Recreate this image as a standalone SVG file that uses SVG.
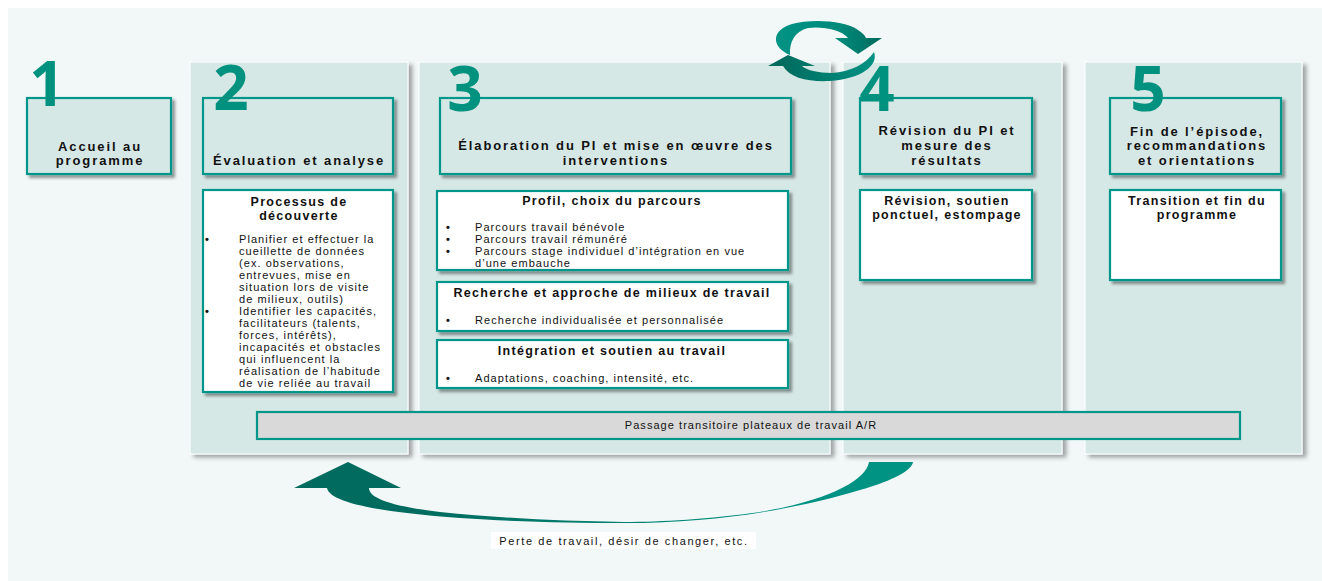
<svg xmlns="http://www.w3.org/2000/svg" width="1322" height="581" viewBox="0 0 1322 581">
<defs>
<style>
.panel{fill:#d6e8e6;stroke:#ffffff;stroke-width:1}
.hbox{fill:#d6e8e6;stroke:#00968a;stroke-width:2.2}
.wbox{fill:#ffffff;stroke:#00968a;stroke-width:2.2}
.num{font-family:"Open Sans","DejaVu Sans",sans-serif;font-weight:700;font-size:62px;fill:#00917f;text-anchor:middle}
.hd{font-family:"Liberation Sans",Arial,sans-serif;font-weight:700;font-size:13px;letter-spacing:1.9px;fill:#111;text-anchor:middle}
.st{font-family:"Liberation Sans",Arial,sans-serif;font-weight:700;font-size:12.5px;letter-spacing:1.3px;fill:#111;text-anchor:middle}
.bd{font-family:"Liberation Sans",Arial,sans-serif;font-size:11px;letter-spacing:1.05px;fill:#111}
.bl{font-family:"Liberation Sans",Arial,sans-serif;font-size:11px;font-weight:700;fill:#111}
.ctr{text-anchor:middle}
</style>
<filter id="sh" x="-10%" y="-10%" width="130%" height="130%">
<feDropShadow dx="3" dy="3" stdDeviation="1.5" flood-color="#000" flood-opacity="0.4"/>
</filter>
<filter id="psh" x="-10%" y="-10%" width="130%" height="130%">
<feDropShadow dx="4" dy="3" stdDeviation="2" flood-color="#000" flood-opacity="0.35"/>
</filter>
<linearGradient id="gBottom" gradientUnits="userSpaceOnUse" x1="420" y1="0" x2="800" y2="0">
<stop offset="0" stop-color="#006b5e"/>
<stop offset="1" stop-color="#009283"/>
</linearGradient>
<linearGradient id="gTop" gradientUnits="userSpaceOnUse" x1="780" y1="0" x2="880" y2="0">
<stop offset="0" stop-color="#009283"/>
<stop offset="0.6" stop-color="#008a7a"/>
<stop offset="1" stop-color="#006b5e"/>
</linearGradient>
<linearGradient id="gLow" gradientUnits="userSpaceOnUse" x1="780" y1="0" x2="875" y2="0">
<stop offset="0" stop-color="#006b5e"/>
<stop offset="1" stop-color="#009283"/>
</linearGradient>
</defs>

<rect x="0" y="0" width="1322" height="581" fill="#ffffff"/>
<rect x="8" y="8" width="1314" height="573" fill="#f2f8f8"/>

<!-- Column panels -->
<g id="panel2"><rect class="panel" x="190" y="62" width="218" height="392" filter="url(#psh)"/></g>
<g id="panel3"><rect class="panel" x="419" y="62" width="411" height="392" filter="url(#psh)"/></g>
<g id="panel4"><rect class="panel" x="843" y="62" width="219" height="392" filter="url(#psh)"/></g>
<g id="panel5"><rect class="panel" x="1085" y="62" width="217" height="392" filter="url(#psh)"/></g>

<!-- Step 1 -->
<g id="step1">
<rect class="hbox" x="27" y="98" width="144" height="76" filter="url(#sh)"/>
<text class="num" x="47" y="106">1</text>
<text class="hd" x="100" y="151">Accueil au</text>
<text class="hd" x="100" y="165">programme</text>
</g>

<!-- Step 2 -->
<g id="step2">
<rect class="hbox" x="203" y="98" width="190" height="76" filter="url(#sh)"/>
<text class="num" x="231" y="110">2</text>
<text class="hd" x="299" y="165">Évaluation et analyse</text>
</g>
<g id="box2">
<rect class="wbox" x="203" y="190" width="190" height="202" filter="url(#sh)"/>
<text class="st" x="299" y="206">Processus de</text>
<text class="st" x="299" y="220">découverte</text>
<text class="bl" x="205" y="243">•</text>
<text class="bl" x="205" y="315">•</text>
<text class="bd" x="239" y="243">Planifier et effectuer la</text>
<text class="bd" x="239" y="255">cueillette de données</text>
<text class="bd" x="239" y="267">(ex. observations,</text>
<text class="bd" x="239" y="279">entrevues, mise en</text>
<text class="bd" x="239" y="291">situation lors de visite</text>
<text class="bd" x="239" y="303">de milieux, outils)</text>
<text class="bd" x="239" y="315">Identifier les capacités,</text>
<text class="bd" x="239" y="327">facilitateurs (talents,</text>
<text class="bd" x="239" y="339">forces, intérêts),</text>
<text class="bd" x="239" y="351">incapacités et obstacles</text>
<text class="bd" x="239" y="363">qui influencent la</text>
<text class="bd" x="239" y="375">réalisation de l’habitude</text>
<text class="bd" x="239" y="387">de vie reliée au travail</text>
</g>

<!-- Step 3 -->
<g id="step3">
<rect class="hbox" x="440" y="98" width="351" height="76" filter="url(#sh)"/>
<text class="num" x="465" y="111">3</text>
<text class="hd" x="616" y="150">Élaboration du PI et mise en œuvre des</text>
<text class="hd" x="616" y="165">interventions</text>
</g>
<g id="box3a">
<rect class="wbox" x="437" y="191" width="351" height="79" filter="url(#sh)"/>
<text class="st" x="612" y="205">Profil, choix du parcours</text>
<text class="bl" x="446" y="231">•</text>
<text class="bl" x="446" y="243">•</text>
<text class="bl" x="446" y="255">•</text>
<text class="bd" x="475" y="231">Parcours travail bénévole</text>
<text class="bd" x="475" y="243">Parcours travail rémunéré</text>
<text class="bd" x="475" y="255">Parcours stage individuel d’intégration en vue</text>
<text class="bd" x="475" y="267">d’une embauche</text>
</g>
<g id="box3b">
<rect class="wbox" x="437" y="282" width="351" height="49" filter="url(#sh)"/>
<text class="st" x="612" y="297">Recherche et approche de milieux de travail</text>
<text class="bl" x="446" y="324">•</text>
<text class="bd" x="475" y="324">Recherche individualisée et personnalisée</text>
</g>
<g id="box3c">
<rect class="wbox" x="437" y="340" width="351" height="48" filter="url(#sh)"/>
<text class="st" x="612" y="355">Intégration et soutien au travail</text>
<text class="bl" x="446" y="382">•</text>
<text class="bd" x="475" y="382">Adaptations, coaching, intensité, etc.</text>
</g>

<!-- Step 4 -->
<g id="step4">
<rect class="hbox" x="860" y="98" width="172" height="76" filter="url(#sh)"/>
<text class="num" x="877" y="111">4</text>
<text class="hd" x="947" y="135">Révision du PI et</text>
<text class="hd" x="947" y="150">mesure des</text>
<text class="hd" x="947" y="165">résultats</text>
</g>
<g id="box4">
<rect class="wbox" x="860" y="190" width="172" height="90" filter="url(#sh)"/>
<text class="st" x="947" y="205">Révision, soutien</text>
<text class="st" x="947" y="219">ponctuel, estompage</text>
</g>

<!-- Step 5 -->
<g id="step5">
<rect class="hbox" x="1110" y="98" width="171" height="76" filter="url(#sh)"/>
<text class="num" x="1148" y="111">5</text>
<text class="hd" x="1197" y="136">Fin de l’épisode,</text>
<text class="hd" x="1197" y="150">recommandations</text>
<text class="hd" x="1197" y="165">et orientations</text>
</g>
<g id="box5">
<rect class="wbox" x="1110" y="190" width="171" height="90" filter="url(#sh)"/>
<text class="st" x="1197" y="205">Transition et fin du</text>
<text class="st" x="1197" y="219">programme</text>
</g>

<!-- Transitional bar -->
<g id="passage">
<rect x="257" y="412" width="983" height="27" fill="#d9d9d9" stroke="#00968a" stroke-width="2.2"/>
<text class="bd ctr" x="751" y="429">Passage transitoire plateaux de travail A/R</text>
</g>

<!-- Connectors -->
<g id="connectors">
<path fill="url(#gBottom)" d="M 327,488 C 330,503 380,512 460,518 C 520,522 570,523 625,523 C 720,523 800,508 860,490 C 895,480 912,470 913,462 L 869,462 C 866,480 830,500 760,512 C 710,519 660,522 625,522 C 560,521 500,518 440,512 C 390,506 369,498 369,488 L 401,488 L 348,462 L 294,488 Z"/>
<path fill="url(#gTop)" d="M 790,55 C 771,47 771,30 792,24 C 810,19 845,20 858,30 C 862,33 865,35 866,38 L 882,38 L 858,54 L 835,38 L 848,38 C 842,30 822,26 808,28 C 795,31 789,42 790,55 Z"/>
<path fill="url(#gLow)" d="M 783,66 C 790,78 808,82 830,81 C 860,79 879,66 874,52 C 866,64 850,72 832,73 C 818,73 806,70 802,66 L 815,66 L 788,55 L 768,66 Z"/>
</g>

<g id="loopLabel">
<rect x="491" y="532" width="265" height="17" fill="#ffffff"/>
<text class="bd ctr" x="624" y="545" style="letter-spacing:1.6px">Perte de travail, désir de changer, etc.</text>
</g>
</svg>
